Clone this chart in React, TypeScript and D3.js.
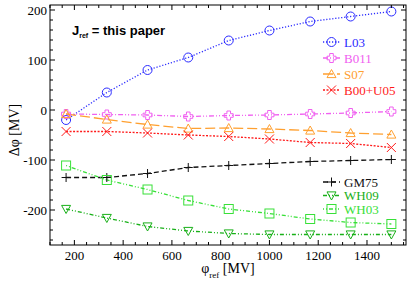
import * as d3 from 'd3'

// x positions of the reference potentials [MV]
const phiRef = [166, 333, 500, 667, 833, 1000, 1167, 1333, 1500]

const L03 = [-20, 35, 80, 105, 139, 159, 177, 187, 197]
const B011 = [-8, -9, -10, -13, -11, -10, -8, -6, -3]
const S07 = [-8, -19, -29, -37, -36, -38, -41, -46, -49]
const B00U05 = [-43, -43, -46, -50, -53, -58, -65, -67, -75]
const GM75 = [-135, -135, -127, -115, -111, -107, -103, -101, -99]
const WH09 = [-198, -216, -233, -242, -247, -249, -249, -249, -249]
const WH03 = [-111, -140, -159, -181, -198, -207, -218, -225, -228]

const xTicks = [200, 400, 600, 800, 1000, 1200, 1400]
const yTicks = [-200, -100, 0, 100, 200]

const W = 415
const H = 283
const m = { left: 50, top: 5, right: 9, bottom: 38 }

const series = [
  { name: 'L03', values: L03, color: '#2b2bff', dash: '1.2,1.8', symbol: 'circle' },
  { name: 'B011', values: B011, color: '#f060f0', dash: '5,2,1,2,1,2', symbol: 'fatplus' },
  { name: 'S07', values: S07, color: '#ffa030', dash: '10,4', symbol: 'triup' },
  { name: 'B00+U05', values: B00U05, color: '#ff1a1a', dash: '2,1.5', symbol: 'x' },
  { name: 'GM75', values: GM75, color: '#111111', dash: '5,3', symbol: 'plus' },
  { name: 'WH09', values: WH09, color: '#18b018', dash: '4,2,1,2,1,2', symbol: 'tridown' },
  { name: 'WH03', values: WH03, color: '#38e038', dash: '1,2,1,2,4,2', symbol: 'square' },
]

const Marker = ({ x, y, kind, color }: { x: number; y: number; kind: string; color: string }) => {
  const r = 4.5
  const common = { fill: 'none', stroke: color, strokeWidth: 1 }
  if (kind === 'circle') return <circle cx={x} cy={y} r={r} {...common} />
  if (kind === 'square') return <rect x={x - r} y={y - r} width={2 * r} height={2 * r} {...common} />
  if (kind === 'triup')
    return <path d={`M${x},${y - r}L${x + r},${y + r * 0.8}L${x - r},${y + r * 0.8}Z`} {...common} />
  if (kind === 'tridown')
    return <path d={`M${x},${y + r}L${x + r},${y - r * 0.8}L${x - r},${y - r * 0.8}Z`} {...common} />
  if (kind === 'x')
    return <path d={`M${x - r},${y - r}L${x + r},${y + r}M${x - r},${y + r}L${x + r},${y - r}`} {...common} />
  if (kind === 'plus')
    return <path d={`M${x - r},${y}L${x + r},${y}M${x},${y - r}L${x},${y + r}`} {...common} />
  // fat plus outline
  const a = 1.8
  const p = [
    [-a, -r], [a, -r], [a, -a], [r, -a], [r, a], [a, a], [a, r], [-a, r], [-a, a], [-r, a], [-r, -a], [-a, -a],
  ]
  return <path d={'M' + p.map((q) => `${x + q[0]},${y + q[1]}`).join('L') + 'Z'} {...common} />
}

export default function App() {
  const x = d3.scaleLinear().domain([100, 1560]).range([m.left, W - m.right])
  const y = d3.scaleLinear().domain([-270, 210]).range([H - m.bottom, m.top])
  const line = d3
    .line<number>()
    .x((d, i) => x(phiRef[i]))
    .y((d) => y(d))

  const x0 = m.left
  const x1 = W - m.right
  const y0 = H - m.bottom
  const y1 = m.top
  const xMinor = d3.range(100, 1561, 50)
  const yMinor = d3.range(-260, 211, 20)

  const legTop = ['L03', 'B011', 'S07', 'B00+U05']
  const legBot = ['GM75', 'WH09', 'WH03']
  const serif = 'Liberation Serif, Times New Roman, serif'

  return (
    <svg width={W} height={H} style={{ position: 'absolute', left: 0, top: 0, background: '#fff' }}>
      {/* series lines */}
      {series.map((s) => (
        <path key={s.name} d={line(s.values) || ''} fill="none" stroke={s.color} strokeWidth={1.3} strokeDasharray={s.dash} />
      ))}
      {series.map((s) =>
        s.values.map((v, i) => <Marker key={s.name + i} x={x(phiRef[i])} y={y(v)} kind={s.symbol} color={s.color} />)
      )}

      {/* frame & ticks */}
      <rect x={x0} y={y1} width={x1 - x0} height={y0 - y1} fill="none" stroke="#000" strokeWidth={1} />
      {xMinor.map((t) => {
        const len = t % 200 === 0 ? 5 : 3
        return (
          <g key={'xm' + t} stroke="#000">
            <line x1={x(t)} x2={x(t)} y1={y0} y2={y0 - len} />
            <line x1={x(t)} x2={x(t)} y1={y1} y2={y1 + len} />
          </g>
        )
      })}
      {yMinor.map((t) => {
        const len = t % 100 === 0 ? 5 : 3
        return (
          <g key={'ym' + t} stroke="#000">
            <line x1={x0} x2={x0 + len} y1={y(t)} y2={y(t)} />
            <line x1={x1} x2={x1 - len} y1={y(t)} y2={y(t)} />
          </g>
        )
      })}
      {xTicks.map((t) => (
        <text key={'xt' + t} x={x(t)} y={y0 + 15} fontSize={13} fontFamily={serif} textAnchor="middle">
          {t}
        </text>
      ))}
      {yTicks.map((t) => (
        <text key={'yt' + t} x={x0 - 3} y={y(t) + 4.5} fontSize={13} fontFamily={serif} textAnchor="end">
          {t}
        </text>
      ))}

      {/* axis titles */}
      <text x={228} y={273} fontSize={14} fontFamily={serif} textAnchor="middle">
        φ<tspan fontSize={9} dy={5}>ref</tspan>
        <tspan dy={-5}> [MV]</tspan>
      </text>
      <text transform="translate(19,130) rotate(-90)" fontSize={14} fontFamily={serif} textAnchor="middle">
        Δφ [MV]
      </text>

      <text x={72} y={35} fontSize={13} fontWeight="bold" fontFamily="Liberation Sans, Arial, sans-serif">
        J<tspan fontSize={7} dy={3}>ref</tspan>
        <tspan dy={-3}> = this paper</tspan>
      </text>

      {/* legends */}
      {[...legTop.map((n, i) => ({ n, yy: 42 + i * 16 })), ...legBot.map((n, i) => ({ n, yy: 182 + i * 13.5 }))].map(
        ({ n, yy }) => {
          const s = series.find((q) => q.name === n)!
          return (
            <g key={'lg' + n}>
              <line x1={323} x2={340} y1={yy} y2={yy} stroke={s.color} strokeWidth={1.3} strokeDasharray={s.dash} />
              <Marker x={331.5} y={yy} kind={s.symbol} color={s.color} />
              <text x={344} y={yy + 4.5} fontSize={13} fontFamily={serif} fill={s.color}>
                {n}
              </text>
            </g>
          )
        }
      )}
    </svg>
  )
}
